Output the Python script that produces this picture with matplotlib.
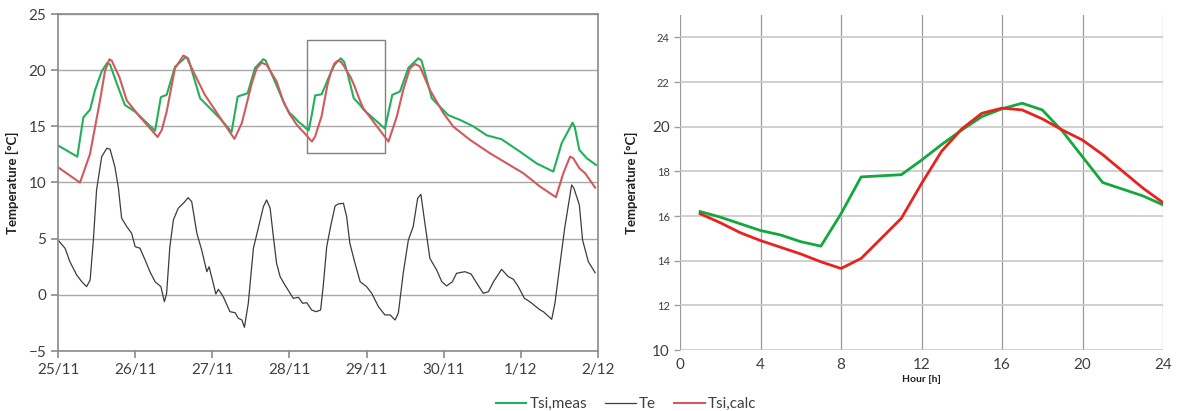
import matplotlib
matplotlib.use("Agg")
import matplotlib.pyplot as plt
from matplotlib.patches import Rectangle

plt.rcParams['font.family'] = ['Lato', 'DejaVu Sans']

# ---------------- data: left chart (hours since 25/11 00:00) ----------------
meas_t = [0, 6, 7.9, 10, 11.5, 13.6, 15.3, 16.2, 18.3, 20.8, 24, 30.2,
          32.0, 33.8, 36.4, 39.7, 40.5, 44.2, 46.8, 50.4, 54.0,
          55.9, 59.0, 61.3, 63.9, 64.6, 67.5, 70.6,
          72, 73, 74, 75, 76, 77, 78, 79, 80, 81, 82, 83, 84, 85, 86, 87, 88,
          89, 90, 91, 92, 93, 94, 95,
          101.7, 104.0, 106.4, 109.0, 112.1, 113.1, 116.3, 118.3, 121.4, 125.1,
          129.2, 133.4, 138.0, 143.7, 148.9, 154.1, 156.7, 160.1, 160.8, 162.2,
          164.5, 167.4]
meas_v = [13.3, 12.3, 15.8, 16.5, 18.2, 19.9, 20.65, 20.5, 18.8, 16.9, 16.3, 14.6,
          17.6, 17.8, 20.3, 21.15, 21.05, 17.5, 16.75, 15.7, 14.5,
          17.65, 17.95, 20.2, 20.98, 20.85, 18.98, 16.9,
          16.2, 15.95, 15.65, 15.35, 15.15, 14.85, 14.65, 16.1, 17.75, 17.8, 17.85,
          18.5, 19.2, 19.85, 20.45, 20.8, 21.05, 20.75, 19.8, 18.65, 17.5, 17.2,
          16.9, 16.5,
          14.8, 17.8, 18.1, 20.2, 21.06, 20.85, 17.5, 16.9, 16.0, 15.57,
          15.0, 14.2, 13.85, 12.75, 11.7, 10.97, 13.5, 15.33, 14.9, 12.9,
          12.16, 11.56]

calc_t = [0, 6.84, 9.96, 13.07, 14.6, 15.96, 16.7, 19.07, 21.4, 25.3, 31.0,
          32.3, 33.8, 36.4, 39.0, 40.0, 42.6, 45.7, 50.9, 54.9,
          57.2, 60.3, 61.8, 63.4, 64.9, 68.0, 70.0,
          72, 73, 74, 75, 76, 77, 78, 79, 80, 81, 82, 83, 84, 85, 86, 87, 88,
          89, 90, 91, 92, 93, 94, 95,
          102.8, 105.4, 107.4, 109.5, 111.1, 112.6, 115.7, 119.9, 123.0, 128.2,
          134.4, 139.6, 144.8, 150.0, 154.9, 157.2, 159.3, 160.3, 162.2, 164.0,
          167.1]
calc_v = [11.36, 9.99, 12.54, 17.3, 19.9, 20.97, 20.85, 19.4, 17.3, 15.9, 14.05,
          14.68, 16.3, 20.17, 21.3, 21.15, 19.58, 17.8, 15.57, 13.88,
          15.3, 18.84, 20.17, 20.67, 20.47, 19.0, 17.3,
          16.1, 15.7, 15.25, 14.9, 14.6, 14.3, 13.95, 13.65, 14.1, 15.0, 15.9,
          17.45, 18.9, 19.9, 20.6, 20.83, 20.75, 20.35, 19.85, 19.4, 18.75, 18.0,
          17.25, 16.6,
          13.64, 15.86, 18.24, 20.17, 20.55, 20.32, 18.24, 16.17, 14.97, 13.79,
          12.6, 11.71, 10.82, 9.63, 8.69, 10.82, 12.3, 12.16, 11.27, 10.82,
          9.55]

te_t = [0, 2.2, 3.7, 5.8, 7.4, 8.9, 10, 11, 12, 13.6, 15.2, 16.2, 17.7, 18.8,
        19.8, 21.4, 22.9, 24.0, 25.5, 27.1, 28.6, 30.2, 32.0, 33.1, 33.8, 34.8,
        35.9, 37.4, 39.0, 40.5, 41.6, 43.2, 44.7, 46.3, 47.0, 48.3, 49.1, 49.9,
        51.4, 53.5, 55.1, 56.1, 57.2, 58.0, 59.2, 60.8, 62.3, 63.9, 64.9, 66.0,
        67.0, 68.0, 69.1, 70.6, 72.2, 73.2, 74.8, 76.1, 77.4, 78.9, 80.3, 81.7,
        82.5, 83.6, 84.8, 86.2, 87.2, 88.8, 89.8, 90.8, 92.4, 94.0, 96.0, 97.6,
        99.7, 101.7, 103.3, 104.9, 105.9, 107.4, 109.0, 110.5, 111.9, 112.9,
        114.0, 115.7, 117.8, 119.4, 120.9, 122.7, 124.0, 126.6, 128.5, 130.3,
        132.3, 133.9, 135.5, 138.0, 140.1, 141.7, 143.2, 145.1, 146.3, 147.4,
        150.0, 151.0, 152.1, 153.6, 154.6, 156.2, 157.7, 159.8, 160.5, 162.2,
        163.2, 165.0, 167.1]
te_v = [4.88, 4.14, 2.95, 1.77, 1.17, 0.73, 1.32, 4.88, 9.34, 12.3, 13.05, 12.96,
        11.4, 9.49, 6.82, 6.07, 5.48, 4.29, 4.15, 3.1, 2.06, 1.17, 0.73, -0.61,
        0.14, 4.29, 6.67, 7.71, 8.15, 8.65, 8.29, 5.48, 3.99, 2.06, 2.5, 1.03,
        0.08, 0.49, -0.16, -1.5, -1.59, -2.09, -2.24, -2.89, -0.75, 4.15, 5.93,
        7.85, 8.45, 7.71, 5.18, 2.81, 1.62, 0.88, 0.14, -0.31, -0.22, -0.75,
        -0.7, -1.35, -1.5, -1.35, 0.73, 4.29, 6.07, 7.91, 8.09, 8.15, 6.96, 4.59,
        2.81, 1.17, 0.73, 0.14, -1.06, -1.79, -1.79, -2.24, -1.59, 1.92, 4.88,
        6.07, 8.6, 8.95, 6.67, 3.25, 2.21, 1.17, 0.79, 1.17, 1.92, 2.06, 1.86,
        1.03, 0.14, 0.28, 1.17, 2.27, 1.62, 1.38, 0.73, -0.31, -0.52, -0.75,
        -1.35, -1.5, -1.79, -2.18, -0.75, 2.81, 6.07, 9.78, 9.49, 8.0, 4.88,
        2.95, 1.97]

day_ticks = [0, 24, 48, 72, 96, 120, 144, 168]
day_labels = ['25/11', '26/11', '27/11', '28/11', '29/11', '30/11', '1/12', '2/12']
zoom_box = (77.5, 12.63, 101.7, 22.69)  # t0, v0, t1, v1 of the marked window

# ---------------- data: right chart (one day, hourly) ----------------
hours = list(range(1, 25))
meas_day = [16.2, 15.95, 15.65, 15.35, 15.15, 14.85, 14.65, 16.1, 17.75, 17.8,
            17.85, 18.5, 19.2, 19.85, 20.45, 20.8, 21.05, 20.75, 19.8, 18.65,
            17.5, 17.2, 16.9, 16.5]
calc_day = [16.1, 15.7, 15.25, 14.9, 14.6, 14.3, 13.95, 13.65, 14.1, 15.0,
            15.9, 17.45, 18.9, 19.9, 20.6, 20.83, 20.75, 20.35, 19.85, 19.4,
            18.75, 18.0, 17.25, 16.6]

# ---------------- figure ----------------
fig = plt.figure(figsize=(11.79, 4.11), dpi=100)
txt = '#404040'

# Left chart
ax1 = fig.add_axes([58/1179, 60/411, 540/1179, 337/411])
ax1.plot(meas_t, meas_v, color='#22b05a', lw=1.5, label='Tsi,meas')
ax1.plot(te_t, te_v, color='#3c3c3c', lw=0.9, label='Te')
ax1.plot(calc_t, calc_v, color='#d05a5e', lw=1.5, label='Tsi,calc')
ax1.add_patch(Rectangle((zoom_box[0], zoom_box[1]), zoom_box[2]-zoom_box[0],
                        zoom_box[3]-zoom_box[1], fill=False, ec='#808080', lw=1))
ax1.set_xlim(0, 168)
ax1.set_ylim(-5, 25)
ax1.set_yticks(range(-5, 26, 5))
ax1.set_xticks(day_ticks)
ax1.set_xticklabels(day_labels)
ax1.grid(axis='y', color='#a8a8a8', lw=1)
ax1.set_axisbelow(True)
for s in ax1.spines.values():
    s.set_color('#8a8a8a')
    s.set_linewidth(1.2)
ax1.tick_params(axis='both', colors='#8a8a8a', labelcolor=txt, labelsize=11,
                length=5, width=1.2)
ax1.set_ylabel('Temperature [°C]', fontsize=9.5, fontweight='bold', color='#202020',
               labelpad=7)

# Right chart
ax2 = fig.add_axes([680/1179, 61/411, 483/1179, 335/411])
ax2.plot(hours, meas_day, color='#12a83c', lw=2)
ax2.plot(hours, calc_day, color='#e8221e', lw=2)
ax2.set_xlim(0, 24)
ax2.set_ylim(10, 25)
ax2.set_xticks(range(0, 25, 4))
ax2.set_yticks(range(10, 25, 2))
ax2.grid(axis='x', color='#9a9a9a', lw=0.9)
ax2.grid(axis='y', color='#c8c8c8', lw=1.2)
ax2.set_axisbelow(True)
for s in ax2.spines.values():
    s.set_visible(False)
ax2.tick_params(axis='both', colors='#a0a0a0', labelcolor=txt, length=4, width=1)
ax2.tick_params(axis='x', labelsize=11, length=0, pad=6)
ax2.tick_params(axis='y', labelsize=8)
for lab in ax2.get_yticklabels():
    if lab.get_text() in ('10', '20'):
        lab.set_fontsize(11)
ax2.set_xlabel('Hour [h]', fontsize=7.5, fontweight='bold', color='#202020', labelpad=2)
ax2.set_ylabel('Temperature [°C]', fontsize=9.5, fontweight='bold', color='#202020',
               labelpad=10)

# Legend
handles, labels = ax1.get_legend_handles_labels()
fig.legend(handles, labels, loc='center', bbox_to_anchor=(626/1179, 1 - 404/411),
           ncol=3, frameon=False, fontsize=11, handlelength=2.0,
           handletextpad=0.2, columnspacing=1.2, labelcolor=txt)

fig.savefig('out.png', dpi=100)
